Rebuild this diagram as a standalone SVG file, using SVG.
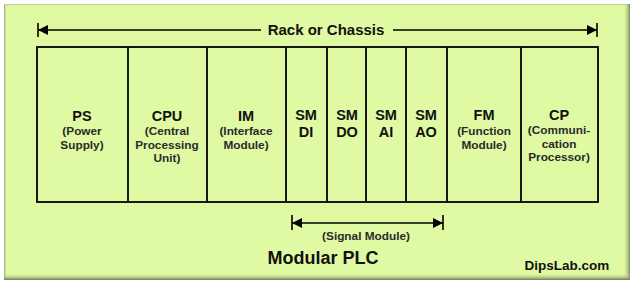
<svg xmlns="http://www.w3.org/2000/svg" width="634" height="284" viewBox="0 0 634 284">
<defs>
<linearGradient id="gr" x1="0" y1="0" x2="1" y2="0"><stop offset="0" stop-color="#e0f9a3" stop-opacity="0"/><stop offset="1" stop-color="#7e8a66"/></linearGradient>
<linearGradient id="gb" x1="0" y1="0" x2="0" y2="1"><stop offset="0" stop-color="#e0f9a3" stop-opacity="0"/><stop offset="1" stop-color="#6f7a5a"/></linearGradient>
<linearGradient id="gl" x1="0" y1="0" x2="1" y2="0"><stop offset="0" stop-color="#8f9c78"/><stop offset="1" stop-color="#e0f9a3" stop-opacity="0"/></linearGradient>
<linearGradient id="gt" x1="0" y1="0" x2="0" y2="1"><stop offset="0" stop-color="#a8b48e"/><stop offset="1" stop-color="#e0f9a3" stop-opacity="0"/></linearGradient>
<marker id="ah" viewBox="0 0 10 10" refX="10" refY="5" markerWidth="10" markerHeight="10" markerUnits="userSpaceOnUse" orient="auto-start-reverse"><path d="M0,0 L10,5 L0,10 Z" fill="#000"/></marker>
</defs>
<style>
.mod{fill:none;stroke:#111;stroke-width:1.6}
.t{font-family:"Liberation Sans",Arial,sans-serif;font-weight:bold;fill:#111;text-anchor:middle}
.h{font-size:14.5px}
.s{font-size:11.8px;fill:#2a2a2a}
.ln{stroke:#000;stroke-width:1.6;fill:none}
</style>
<rect width="634" height="284" fill="#fff"/>
<g id="panel">
<rect x="4" y="4" width="626" height="276" fill="#e0f9a3"/>
<rect x="4" y="4" width="3" height="276" fill="url(#gl)"/>
<rect x="4" y="4" width="626" height="2" fill="url(#gt)"/>
<rect x="623" y="4" width="7" height="276" fill="url(#gr)"/>
<rect x="4" y="273" width="626" height="7" fill="url(#gb)"/>
</g>
<g id="connectors">
<line class="ln" x1="38" y1="30" x2="261" y2="30" marker-start="url(#ah)"/>
<line class="ln" x1="393" y1="30" x2="597" y2="30" marker-end="url(#ah)"/>
<line class="ln" x1="38" y1="23" x2="38" y2="37"/>
<line class="ln" x1="597" y1="23" x2="597" y2="37"/>
<line class="ln" x1="292" y1="223" x2="443" y2="223" marker-start="url(#ah)" marker-end="url(#ah)"/>
<line class="ln" x1="292" y1="215" x2="292" y2="230"/>
<line class="ln" x1="443" y1="215" x2="443" y2="230"/>
</g>
<g id="rack-label"><text class="t" x="326" y="35" font-size="15">Rack or Chassis</text></g>
<g id="rack"><rect class="mod" x="37" y="47" width="561" height="155"/></g>
<g id="PS"><rect class="mod" x="37" y="47" width="91" height="155"/><text class="t h" x="82" y="121">PS</text><text class="t s" x="82" y="135">(Power</text><text class="t s" x="82" y="148.5">Supply)</text></g>
<g id="CPU"><rect class="mod" x="128" y="47" width="79" height="155"/><text class="t h" x="167" y="121">CPU</text><text class="t s" x="167" y="135">(Central</text><text class="t s" x="167" y="148.5">Processing</text><text class="t s" x="167" y="162">Unit)</text></g>
<g id="IM"><rect class="mod" x="207" y="47" width="79" height="155"/><text class="t h" x="246" y="121">IM</text><text class="t s" x="246" y="135">(Interface</text><text class="t s" x="246" y="148.5">Module)</text></g>
<g id="SMDI"><rect class="mod" x="286" y="47" width="41" height="155"/><text class="t h" x="306" y="120">SM</text><text class="t h" x="306" y="137">DI</text></g>
<g id="SMDO"><rect class="mod" x="327" y="47" width="39" height="155"/><text class="t h" x="347" y="120">SM</text><text class="t h" x="347" y="137">DO</text></g>
<g id="SMAI"><rect class="mod" x="366" y="47" width="40" height="155"/><text class="t h" x="386" y="120">SM</text><text class="t h" x="386" y="137">AI</text></g>
<g id="SMAO"><rect class="mod" x="406" y="47" width="41" height="155"/><text class="t h" x="426" y="120">SM</text><text class="t h" x="426" y="137">AO</text></g>
<g id="FM"><rect class="mod" x="447" y="47" width="74" height="155"/><text class="t h" x="484" y="120">FM</text><text class="t s" x="484" y="135">(Function</text><text class="t s" x="484" y="148.5">Module)</text></g>
<g id="CP"><rect class="mod" x="521" y="47" width="77" height="155"/><text class="t h" x="559" y="120">CP</text><text class="t s" x="559" y="134">(Communi-</text><text class="t s" x="559" y="147.5">cation</text><text class="t s" x="559" y="161">Processor)</text></g>
<g id="signal-label"><text class="t s" x="366" y="240">(Signal Module)</text></g>
<g id="title"><text class="t" x="323" y="264" font-size="18">Modular PLC</text></g>
<g id="credit"><text class="t" x="567" y="270" font-size="13.5">DipsLab.com</text></g>
</svg>
